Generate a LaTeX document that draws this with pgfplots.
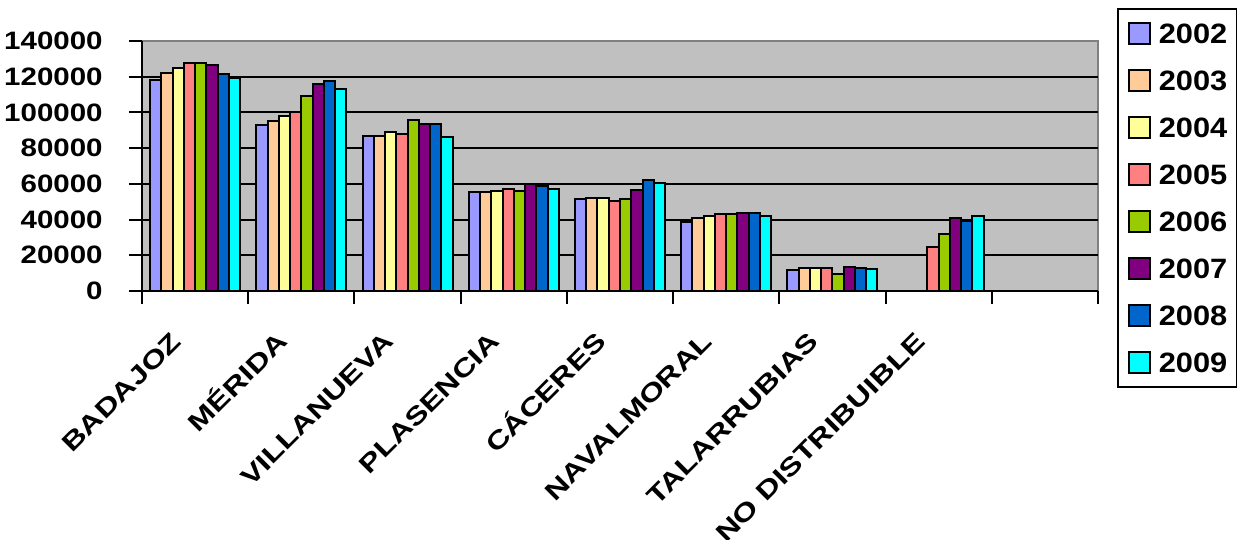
\documentclass[border=0pt]{standalone}
\usepackage{pgfplots}
\pgfplotsset{compat=1.18}
\usepackage{fontspec}
\setmainfont{Liberation Sans}
\newfontfamily\ylabfont[FakeStretch=1.17]{Liberation Sans}
\newfontfamily\xlabfont[FakeStretch=1.28]{Liberation Sans}
\newfontfamily\legfont[FakeStretch=1.1]{Liberation Sans}
\definecolor{c2002}{HTML}{9999FF}
\definecolor{c2003}{HTML}{FFCC99}
\definecolor{c2004}{HTML}{FFFF99}
\definecolor{c2005}{HTML}{FF8080}
\definecolor{c2006}{HTML}{99CC00}
\definecolor{c2007}{HTML}{800080}
\definecolor{c2008}{HTML}{0066CC}
\definecolor{c2009}{HTML}{00FFFF}
\definecolor{bggray}{HTML}{C0C0C0}
\definecolor{bordergray}{HTML}{808080}
\pgfplotsset{
  mybar/.style={fill=#1, draw=black, line width=1bp,
    legend image code/.code={\draw[##1, line width=0.9bp] (0bp,0bp) rectangle (10.5bp,10.5bp);}},
}
\begin{document}
\begin{tikzpicture}
\useasboundingbox (-71bp,-124.5bp) rectangle (547.5bp,145.5bp);
\begin{axis}[
  scale only axis, width=478bp, height=125bp,
  ybar=0pt, bar width=0.106,
  xmin=-0.5, xmax=8.5, ymin=0, ymax=140000,
  ytick={0,20000,40000,60000,80000,100000,120000},
  yticklabels={0,20000,40000,60000,80000,100000,120000},
  extra y ticks={140000},
  extra y tick labels={140000},
  extra y tick style={grid=none},
  scaled y ticks=false,
  axis lines=left,
  axis line style={-, line width=1bp, black},
  axis background/.style={fill=bggray, draw=bordergray, line width=1bp},
  ymajorgrids,
  major grid style={black, line width=1bp},
  tick align=outside,
  major tick length=6.5bp,
  tick style={black, line width=1bp},
  xtick={-0.5,0.5,1.5,2.5,3.5,4.5,5.5,6.5,7.5,8.5},
  xticklabels={BADAJOZ,MÉRIDA,VILLANUEVA,PLASENCIA,CÁCERES,NAVALMORAL,TALARRUBIAS,NO DISTRIBUIBLE,{},{}},
  xticklabel style={font=\xlabfont\bfseries\fontsize{12.6bp}{14bp}\selectfont,
    inner sep=0pt, text height=9bp, text depth=0pt,
    xshift=14bp, yshift=-13bp, rotate=45, anchor=north east},
  yticklabel style={font=\ylabfont\bfseries\fontsize{12.6bp}{14bp}\selectfont,
    inner sep=0pt, anchor=east, xshift=-13bp},
  legend style={at={(1.0199,1.132)}, anchor=north west, draw=black, line width=1bp,
    font=\legfont\bfseries\fontsize{14bp}{16bp}\selectfont,
    inner xsep=5bp, inner ysep=6.5bp, row sep=12.1bp, column sep=4bp,
    nodes={inner sep=0pt, text height=10bp, text depth=0pt, anchor=base west}},
  legend cell align=left,
]
\addplot[mybar=c2002] coordinates {(0,118000) (1,93000) (2,87000) (3,55300) (4,51800) (5,38700) (6,12000)};
\addplot[mybar=c2003] coordinates {(0,122200) (1,95300) (2,86700) (3,55700) (4,52100) (5,40900) (6,12700)};
\addplot[mybar=c2004] coordinates {(0,125000) (1,97900) (2,88800) (3,56100) (4,52100) (5,42000) (6,12700)};
\addplot[mybar=c2005] coordinates {(0,127600) (1,100400) (2,88000) (3,57200) (4,50600) (5,43000) (6,13100) (7,24500)};
\addplot[mybar=c2006] coordinates {(0,127600) (1,109000) (2,95700) (3,56100) (4,51400) (5,43400) (6,9700) (7,32000)};
\addplot[mybar=c2007] coordinates {(0,126700) (1,116200) (2,93800) (3,60000) (4,56600) (5,43500) (6,13500) (7,41100)};
\addplot[mybar=c2008] coordinates {(0,121300) (1,117600) (2,93600) (3,58700) (4,62200) (5,43500) (6,12700) (7,39400)};
\addplot[mybar=c2009] coordinates {(0,119200) (1,113300) (2,86000) (3,57400) (4,60600) (5,42000) (6,12300) (7,41900)};
\legend{2002,2003,2004,2005,2006,2007,2008,2009}
\end{axis}
\end{tikzpicture}
\end{document}
